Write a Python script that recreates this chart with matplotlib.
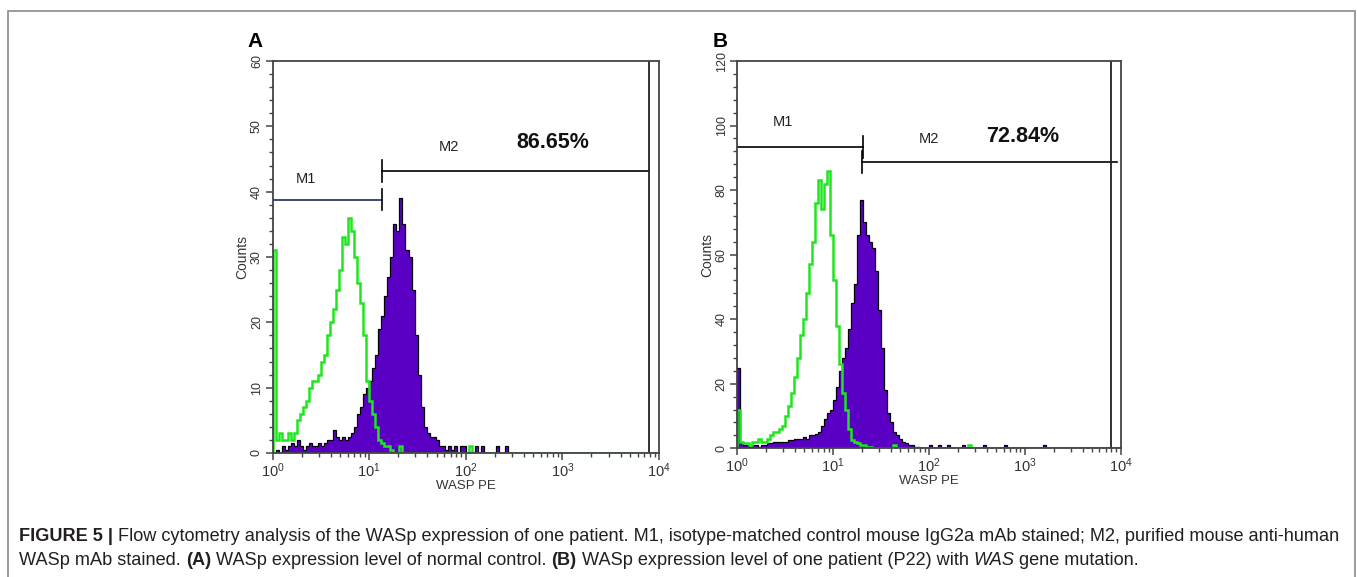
import numpy as np
import matplotlib.pyplot as plt
from matplotlib.patches import Rectangle
from matplotlib.ticker import LogLocator, NullFormatter, MultipleLocator

plt.rcParams['font.family'] = ['Liberation Sans', 'DejaVu Sans']
plt.rcParams['mathtext.fontset'] = 'custom'
plt.rcParams['mathtext.rm'] = 'Liberation Sans'
plt.rcParams['mathtext.it'] = 'Liberation Sans:italic'
plt.rcParams['mathtext.bf'] = 'Liberation Sans:bold'

# === 数据: 每个通道 = 1/32 个十进位 (10^0 .. 10^4, 128 个通道) ===
CH_PER_DECADE = 32

# A: 正常对照
iso_a = [
    31, 2, 3, 2, 2, 3, 2, 3, 5, 6, 7, 8, 10, 11, 11, 12,
    14, 15, 18, 20, 22, 25, 28, 33, 32, 36, 34, 30, 26, 23, 18, 11,
    8, 6, 4, 2, 1.5, 1, 1, 0.5, 0, 0, 1, 0, 0, 0, 0, 0,
    0, 0, 0, 0, 0, 0, 0, 0, 0, 0, 0, 0, 0, 0, 0, 0,
    0, 1, 0, 0, 0, 0, 0, 0, 0, 0, 0, 0, 0, 0, 0, 0,
    0, 0, 0, 0, 0, 0, 0, 0, 0, 0, 0, 0, 0, 0, 0, 0,
    0, 0, 0, 0, 0, 0, 0, 0, 0, 0, 0, 0, 0, 0, 0, 0,
    0, 0, 0, 0, 0, 0, 0, 0, 0, 0, 0, 0, 0, 0, 0, 0,
]
wasp_a = [
    0, 0.5, 0, 1, 0.5, 1, 1.5, 1, 2, 1, 0.5, 1, 1.5, 1, 1, 1.5,
    1, 1.5, 2, 2, 3.5, 2.5, 2, 2.5, 2, 2.5, 3, 4, 6, 7, 9, 10,
    11, 13, 15, 19, 21, 24, 27, 30, 35, 34, 39, 35, 31, 30, 25, 18,
    12, 7, 4, 3, 2.5, 2.5, 2, 1, 1, 0.5, 1, 0.5, 1, 0, 1, 1,
    0, 0, 0, 1, 0, 1, 0, 0, 0, 0, 1, 0, 0, 1, 0, 0,
    0, 0, 0, 0, 0, 0, 0, 0, 0, 0, 0, 0, 0, 0, 0, 0,
    0, 0, 0, 0, 0, 0, 0, 0, 0, 0, 0, 0, 0, 0, 0, 0,
    0, 0, 0, 0, 0, 0, 0, 0, 0, 0, 0, 0, 0, 0, 0, 0,
]

# B: 患者 P22
iso_b = [
    12, 2, 1.5, 1.5, 1, 2, 2, 3, 2, 2, 3, 4, 5, 5, 6, 7,
    10, 13, 17, 22, 28, 35, 40, 48, 57, 64, 76, 83, 74, 82, 86, 66,
    52, 38, 26, 17, 12, 6, 2.5, 2, 1.5, 1, 1, 0.5, 0.5, 0, 0, 0,
    0, 0, 0, 0, 1, 0, 0, 0, 0, 0, 0, 0, 0, 0, 0, 0,
    0, 0, 0, 0, 0, 0, 0, 0, 0, 0, 0, 0, 0, 1, 0, 0,
    0, 0, 0, 0, 0, 0, 0, 0, 0, 0, 0, 0, 0, 0, 0, 0,
    0, 0, 0, 0, 0, 0, 0, 0, 0, 0, 0, 0, 0, 0, 0, 0,
    0, 0, 0, 0, 0, 0, 0, 0, 0, 0, 0, 0, 0, 0, 0, 0,
]
wasp_b = [
    25, 1.5, 1, 1, 0.5, 1, 1, 0.5, 1, 1, 1.5, 1.5, 2, 2, 2, 2,
    2, 2.5, 2.5, 3, 3, 3, 3.5, 3, 4, 4, 4.5, 5, 7, 9, 11, 12,
    15, 19, 24, 28, 31, 37, 45, 51, 66, 77, 70, 66, 64, 62, 55, 43,
    31, 18, 11, 8, 5, 4, 3, 2, 1.5, 1, 1, 0.5, 0.5, 0, 0, 0,
    1, 0, 0, 1, 0, 0, 1, 0, 0, 0, 0, 1, 0, 0, 0, 0,
    0, 0, 1, 0, 0, 0, 0, 0, 0, 1, 0, 0, 0, 0, 0, 0,
    0, 0, 0, 0, 0, 0, 1, 0, 0, 0, 0, 0, 0, 0, 0, 0,
    0, 0, 0, 0, 0, 0, 0, 0, 0, 0, 0, 0, 0, 0, 0, 0,
]

# 门 (M1 / M2) 与百分比
panels = ["A", "B"]
y_max = [60, 120]
m1_gate = [(1, 13.5, 38.8), (1, 20.6, 93.4)]        # (x0, x1, y)
m2_gate = [(13.5, 7870, 43.2), (20.0, 9080, 88.7)]
right_line = [7870, 7925]
m2_percent = ["86.65%", "72.84%"]
m1_label_pos = [(2.2, 41.9), (3.0, 101)]
m2_label_pos = [(67, 46.9), (100, 95.8)]
pct_pos = [(790, 47.5), (950, 96.5)]

GREEN = "#1ee61e"
PURPLE = "#5a00c4"
INK = "#333333"

fig = plt.figure(figsize=(13.57, 5.77), dpi=100)
fig.patches.append(Rectangle((8 / 1357, -0.05), 1347 / 1357, 1 - 11 / 577 + 0.05,
                             transform=fig.transFigure, fill=False,
                             edgecolor="#8a8a8a", lw=1.2))

axes_rects = [
    [272.7 / 1357, 1 - 453 / 577, 386.3 / 1357, 392 / 577],
    [737.3 / 1357, 1 - 448.3 / 577, 383.4 / 1357, 387.3 / 577],
]
series = [(iso_a, wasp_a), (iso_b, wasp_b)]
m1_colors = ["#1c2b5a", "black"]

for k in range(2):
    ax = fig.add_axes(axes_rects[k])
    iso, wasp = series[k]
    edges = np.logspace(0, len(iso) / CH_PER_DECADE, len(iso) + 1)
    ax.stairs(wasp, edges, fill=True, color=PURPLE, lw=0)
    ax.stairs(wasp, edges, color="black", lw=0.9)
    ax.stairs(iso, edges, color=GREEN, lw=1.8)

    ax.set_xscale("log")
    ax.set_xlim(1, 1e4)
    ax.set_ylim(0, y_max[k])

    # 门
    x0, x1, y = m1_gate[k]
    ax.plot([x0, x1], [y, y], color=m1_colors[k], lw=1.2)
    h = y_max[k] * 0.028
    ax.plot([x1, x1], [y - h, y + h], color="black", lw=1.2)
    x0, x1, y = m2_gate[k]
    ax.plot([x0, x1], [y, y], color="black", lw=1.2)
    ax.plot([x0, x0], [y - h, y + h], color="black", lw=1.2)
    ax.axvline(right_line[k], color="#222222", lw=1.3)

    ax.text(*m1_label_pos[k], "M1", fontsize=10.5, ha="center", va="center", color="#222222")
    ax.text(*m2_label_pos[k], "M2", fontsize=10.5, ha="center", va="center", color="#222222")
    ax.text(*pct_pos[k], m2_percent[k], fontsize=15.5, fontweight="bold",
            ha="center", va="center", color="#111111")

    # 坐标轴样式
    for sp in ax.spines.values():
        sp.set_color("#444444")
        sp.set_linewidth(1.3)
    ax.xaxis.set_major_locator(LogLocator(base=10, numticks=10))
    ax.xaxis.set_minor_locator(LogLocator(base=10, subs=np.arange(2, 10), numticks=10))
    ax.xaxis.set_minor_formatter(NullFormatter())
    ax.yaxis.set_major_locator(MultipleLocator(y_max[k] / 6))
    ax.yaxis.set_minor_locator(MultipleLocator(y_max[k] / 30))
    ax.tick_params(axis="both", which="major", direction="out", length=5,
                   width=1.1, color="#444444", labelcolor=INK, labelsize=10.5)
    ax.tick_params(axis="both", which="minor", direction="out", length=3,
                   width=1.0, color="#444444")
    ax.tick_params(axis="y", labelrotation=90, labelsize=9, pad=2)
    ax.tick_params(axis="x", pad=1)
    for lab in ax.get_yticklabels():
        lab.set_va("center")
    ax.set_ylabel("Counts", fontsize=10, color=INK, labelpad=1)
    ax.set_xlabel("WASP PE", fontsize=9.5, color=INK, labelpad=0)

    ax.text(-0.065, 1.05, panels[k], transform=ax.transAxes, fontsize=15,
            fontweight="bold", ha="left", va="center")

# === 图注 ===
def rich_line(x, y, parts, size=13.1, color="#231f20"):
    r = fig.canvas.get_renderer()
    for s, weight, style in parts:
        t = fig.text(x, y, s, fontsize=size, fontweight=weight, fontstyle=style,
                     color=color, va="baseline", ha="left")
        x += t.get_window_extent(renderer=r).width / fig.bbox.width

line1 = [("FIGURE 5 |", "bold", "normal"),
         (" Flow cytometry analysis of the WASp expression of one patient. M1, isotype-matched "
          "control mouse IgG2a mAb stained; M2, purified mouse anti-human", "normal", "normal")]
line2 = [("WASp mAb stained. ", "normal", "normal"),
         ("(A)", "bold", "normal"),
         (" WASp expression level of normal control. ", "normal", "normal"),
         ("(B)", "bold", "normal"),
         (" WASp expression level of one patient (P22) with ", "normal", "normal"),
         ("WAS", "normal", "italic"),
         (" gene mutation.", "normal", "normal")]
rich_line(19 / 1357, 1 - 541 / 577, line1)
rich_line(19 / 1357, 1 - 565 / 577, line2)

fig.savefig("out.png", dpi=100)
